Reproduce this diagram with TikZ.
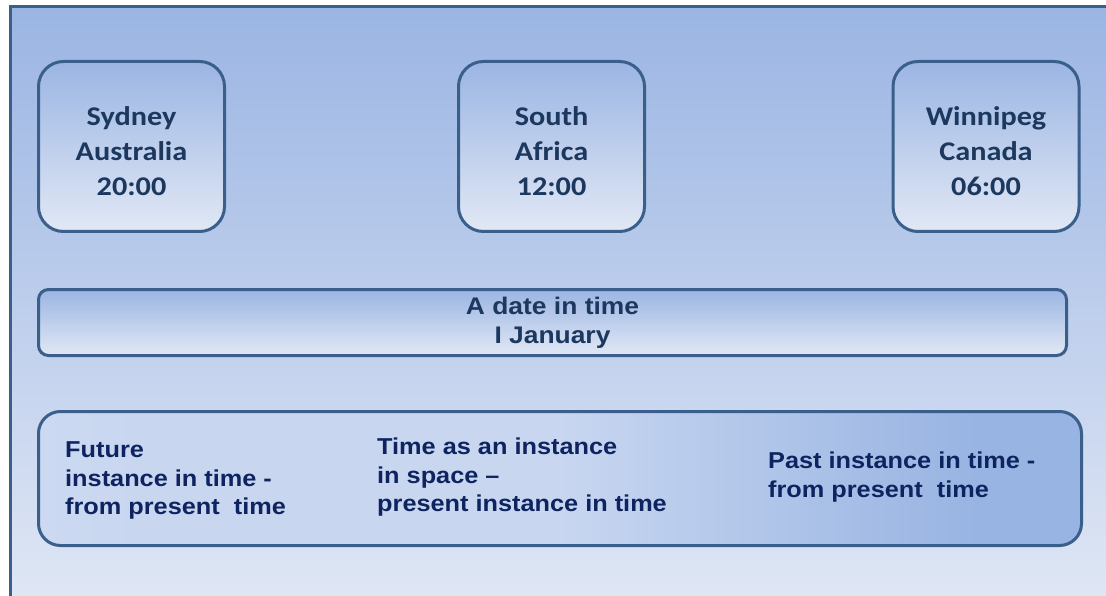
\documentclass[tikz,border=0pt]{standalone}
\usepackage{fontspec}
\newfontfamily\cityfont{Carlito}[FakeStretch=1.12]
\newfontfamily\notefont{Liberation Sans}[FakeStretch=1.1]
\definecolor{edgeblue}{RGB}{58,95,139}
\definecolor{cityink}{RGB}{28,56,94}
\definecolor{noteink}{RGB}{14,36,96}
\definecolor{skytop}{RGB}{155,181,227}
\definecolor{skybot}{RGB}{225,232,245}
\definecolor{pastmid}{RGB}{200,214,240}
\definecolor{pastdark}{RGB}{152,180,226}
\pgfdeclarehorizontalshading{pastshade}{100bp}{color(0bp)=(skybot); color(30bp)=(pastmid); color(50bp)=(pastmid); color(70bp)=(pastdark); color(100bp)=(pastdark)}
\begin{document}
\begin{tikzpicture}[x=1pt,y=-1pt]

      \useasboundingbox (0,0) rectangle (1106,596);
      \clip (0,0) rectangle (1106,596);

      % backdrop
      \draw[line width=3pt, draw=edgeblue, top color=skytop, bottom color=skybot]
        (10,7) rectangle (1125,615);

      \begin{scope}[every node/.style={draw=edgeblue, line width=3pt, rounded corners=25pt,
          top color=skytop, bottom color=skybot, text=cityink, align=center,
          font=\cityfont\bfseries\fontsize{27}{35}\selectfont,
          minimum width=186pt, minimum height=170pt, inner sep=0pt}]
        \node (sydney)   at (131.5,146.5) {\\[-6pt]Sydney\\Australia\\20:00};
        \node (africa)   at (551.5,146.5) {\\[-6pt]South\\Africa\\12:00};
        \node (winnipeg) at (986,146.5)   {\\[-6pt]Winnipeg\\Canada\\06:00};
      \end{scope}

      \node (date) [draw=edgeblue, line width=3pt, rounded corners=10pt,
          top color=skytop, bottom color=skybot, text=cityink, align=center,
          font=\notefont\bfseries\fontsize{24}{29}\selectfont,
          minimum width=1028pt, minimum height=66pt, inner sep=0pt]
        at (552.5,322.5) {A date in time\\I January};

      \node (span) [draw=edgeblue, line width=3pt, rounded corners=22pt,
          shading=pastshade, minimum width=1043pt, minimum height=134pt, inner sep=0pt]
        at (560,478.5) {};

      \begin{scope}[every node/.style={anchor=north west, align=left, inner sep=0pt,
          text=noteink, font=\notefont\bfseries\fontsize{23}{28.5}\selectfont}]
        \node (future)  at (65,441.5) {Future\\instance in time -\\from present\ \ time};
        \node (present) at (377,438)  {Time as an instance\\in space –\\present instance in time};
        \node (past)    at (768,452)  {Past instance in time -\\from present\ \ time};
      \end{scope}

    \end{tikzpicture}
\end{document}
